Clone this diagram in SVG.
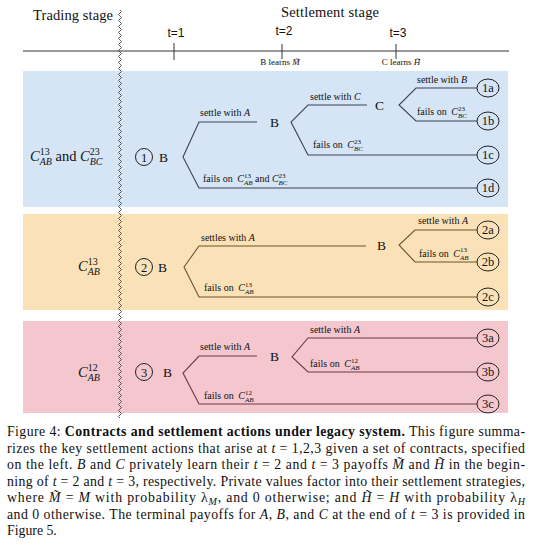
<svg xmlns="http://www.w3.org/2000/svg" width="533" height="548" viewBox="0 0 533 548">
<style>
.serif{font-family:"Liberation Serif","Times New Roman",serif;fill:#111}
.sans{font-family:"Liberation Sans",Arial,sans-serif;fill:#111}
.head{font-size:14.5px}
.tl{font-size:12px}
.sm{font-size:9px;text-anchor:middle}
.lbl{font-size:10px}
.nd{font-size:13.5px}
.ml{font-size:14.5px}
.ct{font-size:12.5px;text-anchor:middle}
.it{font-style:italic}
.cap{font-size:13.8px}
.axis{stroke:#333;stroke-width:1;fill:none}
.br{fill:none;stroke-width:1.1;stroke-linejoin:miter}
.bb{stroke:#3c4350}
.bo{stroke:#6e5430}
.bp{stroke:#6a3a46}
.term{fill:none;stroke:#222;stroke-width:1}
</style>

<g id="panels">
<rect id="panel-1" x="23" y="71" width="485" height="136" fill="#d5e5f6"/>
<rect id="panel-2" x="23" y="214" width="485" height="96" fill="#fbe1b7"/>
<rect id="panel-3" x="23" y="321" width="485" height="92" fill="#f4c6cd"/>
</g>

<g id="timeline">
<text x="33" y="20" class="serif head" textLength="80">Trading stage</text>
<text x="281" y="17" class="serif head" textLength="98">Settlement stage</text>
<line class="axis" x1="23" y1="51" x2="509" y2="51"/>
<line class="axis" x1="174" y1="43" x2="174" y2="60"/>
<line class="axis" x1="282" y1="44" x2="282" y2="59"/>
<line class="axis" x1="396" y1="44" x2="396" y2="59"/>
<text x="176" y="37" class="sans tl" text-anchor="middle">t=1</text>
<text x="284" y="35" class="sans tl" text-anchor="middle">t=2</text>
<text x="398" y="37" class="sans tl" text-anchor="middle">t=3</text>
<text x="280" y="65" class="serif sm">B learns <tspan class="it">M̃</tspan></text>
<text x="401" y="65" class="serif sm">C learns <tspan class="it">H̃</tspan></text>
</g>

<g id="contracts">
<text x="30" y="161" class="serif ml"><tspan class="it">C</tspan><tspan font-size="10" dy="-6">13</tspan><tspan font-size="10" class="it" dx="-10" dy="10">AB</tspan><tspan dy="-4"> and </tspan><tspan class="it">C</tspan><tspan font-size="10" dy="-6">23</tspan><tspan font-size="10" class="it" dx="-10" dy="10">BC</tspan></text>
<text x="78" y="271" class="serif ml"><tspan class="it">C</tspan><tspan font-size="10" dy="-6">13</tspan><tspan font-size="10" class="it" dx="-10" dy="10">AB</tspan></text>
<text x="78" y="377" class="serif ml"><tspan class="it">C</tspan><tspan font-size="10" dy="-6">12</tspan><tspan font-size="10" class="it" dx="-10" dy="10">AB</tspan></text>
</g>

<g id="connectors">
<polyline class="br bb" points="257,122 199,122 183,157 199,188 477,188"/>
<polyline class="br bb" points="367,105 308,105 291,122 308,155 477,155"/>
<polyline class="br bb" points="477,88 416,88 399,105 416,121 477,121"/>
<polyline class="br bo" points="366,246 199,246 184,267 199,297 477,297"/>
<polyline class="br bo" points="477,230 415,230 399,245 415,262 477,262"/>
<polyline class="br bp" points="257,356 199,356 183,373 199,404 477,404"/>
<polyline class="br bp" points="477,338 308,338 292,357 308,372 477,372"/>
<text x="200" y="116" class="serif lbl">settle with <tspan class="it">A</tspan></text>
<text x="310" y="100" class="serif lbl">settle with <tspan class="it">C</tspan></text>
<text x="417" y="83" class="serif lbl">settle with <tspan class="it">B</tspan></text>
<text x="417" y="115" class="serif lbl">fails on <tspan class="it" dx="2">C</tspan><tspan font-size="7" dy="-4.5">23</tspan><tspan font-size="7" class="it" dx="-7" dy="7.5">BC</tspan></text>
<text x="313" y="148" class="serif lbl">fails on <tspan class="it" dx="2">C</tspan><tspan font-size="7" dy="-4.5">23</tspan><tspan font-size="7" class="it" dx="-7" dy="7.5">BC</tspan></text>
<text x="203" y="182" class="serif lbl">fails on <tspan class="it" dx="2">C</tspan><tspan font-size="7" dy="-4.5">13</tspan><tspan font-size="7" class="it" dx="-7" dy="7.5">AB</tspan><tspan dy="-3"> and </tspan><tspan class="it">C</tspan><tspan font-size="7" dy="-4.5">23</tspan><tspan font-size="7" class="it" dx="-7" dy="7.5">BC</tspan></text>
<text x="201" y="241" class="serif lbl">settles with <tspan class="it">A</tspan></text>
<text x="418" y="224" class="serif lbl">settle with <tspan class="it">A</tspan></text>
<text x="419" y="256.5" class="serif lbl">fails on <tspan class="it" dx="2">C</tspan><tspan font-size="7" dy="-4.5">13</tspan><tspan font-size="7" class="it" dx="-7" dy="7.5">AB</tspan></text>
<text x="204" y="291" class="serif lbl">fails on <tspan class="it" dx="2">C</tspan><tspan font-size="7" dy="-4.5">13</tspan><tspan font-size="7" class="it" dx="-7" dy="7.5">AB</tspan></text>
<text x="200" y="350" class="serif lbl">settle with <tspan class="it">A</tspan></text>
<text x="310" y="333" class="serif lbl">settle with <tspan class="it">A</tspan></text>
<text x="310" y="367" class="serif lbl">fails on <tspan class="it" dx="2">C</tspan><tspan font-size="7" dy="-4.5">12</tspan><tspan font-size="7" class="it" dx="-7" dy="7.5">AB</tspan></text>
<text x="204" y="399" class="serif lbl">fails on <tspan class="it" dx="2">C</tspan><tspan font-size="7" dy="-4.5">12</tspan><tspan font-size="7" class="it" dx="-7" dy="7.5">AB</tspan></text>
</g>

<g id="node-1"><circle class="term" cx="144" cy="157" r="8.5"/><text x="144" y="161.5" class="serif ct">1</text><text x="159" y="161.7" class="serif nd">B</text></g>
<g id="node-1-B"><text x="270" y="126.7" class="serif nd">B</text></g>
<g id="node-1-C"><text x="375" y="109.7" class="serif nd">C</text></g>
<g id="node-1a"><ellipse class="term" cx="488" cy="88" rx="11" ry="9"/><text x="488" y="92.3" class="serif ct">1a</text></g>
<g id="node-1b"><ellipse class="term" cx="488" cy="121" rx="11" ry="9"/><text x="488" y="125.3" class="serif ct">1b</text></g>
<g id="node-1c"><ellipse class="term" cx="488" cy="155" rx="11" ry="9"/><text x="488" y="159.3" class="serif ct">1c</text></g>
<g id="node-1d"><ellipse class="term" cx="488" cy="188" rx="11" ry="9"/><text x="488" y="192.3" class="serif ct">1d</text></g>

<g id="node-2"><circle class="term" cx="144" cy="267" r="8.5"/><text x="144" y="271.5" class="serif ct">2</text><text x="158" y="271.7" class="serif nd">B</text></g>
<g id="node-2-B"><text x="377" y="249.7" class="serif nd">B</text></g>
<g id="node-2a"><ellipse class="term" cx="488" cy="230" rx="11" ry="9"/><text x="488" y="234.3" class="serif ct">2a</text></g>
<g id="node-2b"><ellipse class="term" cx="488" cy="262" rx="11" ry="9"/><text x="488" y="266.3" class="serif ct">2b</text></g>
<g id="node-2c"><ellipse class="term" cx="488" cy="297" rx="11" ry="9"/><text x="488" y="301.3" class="serif ct">2c</text></g>

<g id="node-3"><circle class="term" cx="144" cy="372" r="8.5"/><text x="144" y="376.5" class="serif ct">3</text><text x="163" y="376.7" class="serif nd">B</text></g>
<g id="node-3-B"><text x="270" y="360.7" class="serif nd">B</text></g>
<g id="node-3a"><ellipse class="term" cx="488" cy="338" rx="11" ry="9"/><text x="488" y="342.3" class="serif ct">3a</text></g>
<g id="node-3b"><ellipse class="term" cx="488" cy="372" rx="11" ry="9"/><text x="488" y="376.3" class="serif ct">3b</text></g>
<g id="node-3c"><ellipse class="term" cx="488" cy="404" rx="11" ry="9"/><text x="488" y="408.3" class="serif ct">3c</text></g>

<g id="divider">
<path fill="none" stroke="#333" stroke-width="0.8" d="M120,10q3,1.5 0,3t0,3t0,3t0,3t0,3t0,3t0,3t0,3t0,3t0,3t0,3t0,3t0,3t0,3t0,3t0,3t0,3t0,3t0,3t0,3t0,3t0,3t0,3t0,3t0,3t0,3t0,3t0,3t0,3t0,3t0,3t0,3t0,3t0,3t0,3t0,3t0,3t0,3t0,3t0,3t0,3t0,3t0,3t0,3t0,3t0,3t0,3t0,3t0,3t0,3t0,3t0,3t0,3t0,3t0,3t0,3t0,3t0,3t0,3t0,3t0,3t0,3t0,3t0,3t0,3t0,3t0,3t0,3t0,3t0,3t0,3t0,3t0,3t0,3t0,3t0,3t0,3t0,3t0,3t0,3t0,3t0,3t0,3t0,3t0,3t0,3t0,3t0,3t0,3t0,3t0,3t0,3t0,3t0,3t0,3t0,3t0,3t0,3t0,3t0,3t0,3t0,3t0,3t0,3t0,3t0,3t0,3t0,3t0,3t0,3t0,3t0,3t0,3t0,3t0,3t0,3t0,3t0,3t0,3t0,3t0,3t0,3t0,3t0,3t0,3t0,3t0,3t0,3t0,3t0,3t0,3t0,3t0,3t0,3t0,3t0,3"/>
</g>

<g id="caption" class="serif cap">
<text x="7" y="436" textLength="518" lengthAdjust="spacing">Figure 4: <tspan font-weight="bold">Contracts and settlement actions under legacy system.</tspan> This figure summa-</text>
<text x="7" y="452.5" textLength="518" lengthAdjust="spacing">rizes the key settlement actions that arise at <tspan class="it">t</tspan> = 1,2,3 given a set of contracts, specified</text>
<text x="7" y="469" textLength="518" lengthAdjust="spacing">on the left. <tspan class="it">B</tspan> and <tspan class="it">C</tspan> privately learn their <tspan class="it">t</tspan> = 2 and <tspan class="it">t</tspan> = 3 payoffs <tspan class="it">M̃</tspan> and <tspan class="it">H̃</tspan> in the begin-</text>
<text x="7" y="485.5" textLength="518" lengthAdjust="spacing">ning of <tspan class="it">t</tspan> = 2 and <tspan class="it">t</tspan> = 3, respectively. Private values factor into their settlement strategies,</text>
<text x="7" y="502" textLength="518" lengthAdjust="spacing">where <tspan class="it">M̃</tspan> = <tspan class="it">M</tspan> with probability λ<tspan class="it" font-size="10" dy="3">M</tspan><tspan dy="-3">, and 0 otherwise; and </tspan><tspan class="it">H̃</tspan> = <tspan class="it">H</tspan> with probability λ<tspan class="it" font-size="10" dy="3">H</tspan></text>
<text x="7" y="518.5" textLength="518" lengthAdjust="spacing">and 0 otherwise. The terminal payoffs for <tspan class="it">A</tspan>, <tspan class="it">B</tspan>, and <tspan class="it">C</tspan> at the end of <tspan class="it">t</tspan> = 3 is provided in</text>
<text x="7" y="535">Figure 5.</text>
</g>
</svg>
